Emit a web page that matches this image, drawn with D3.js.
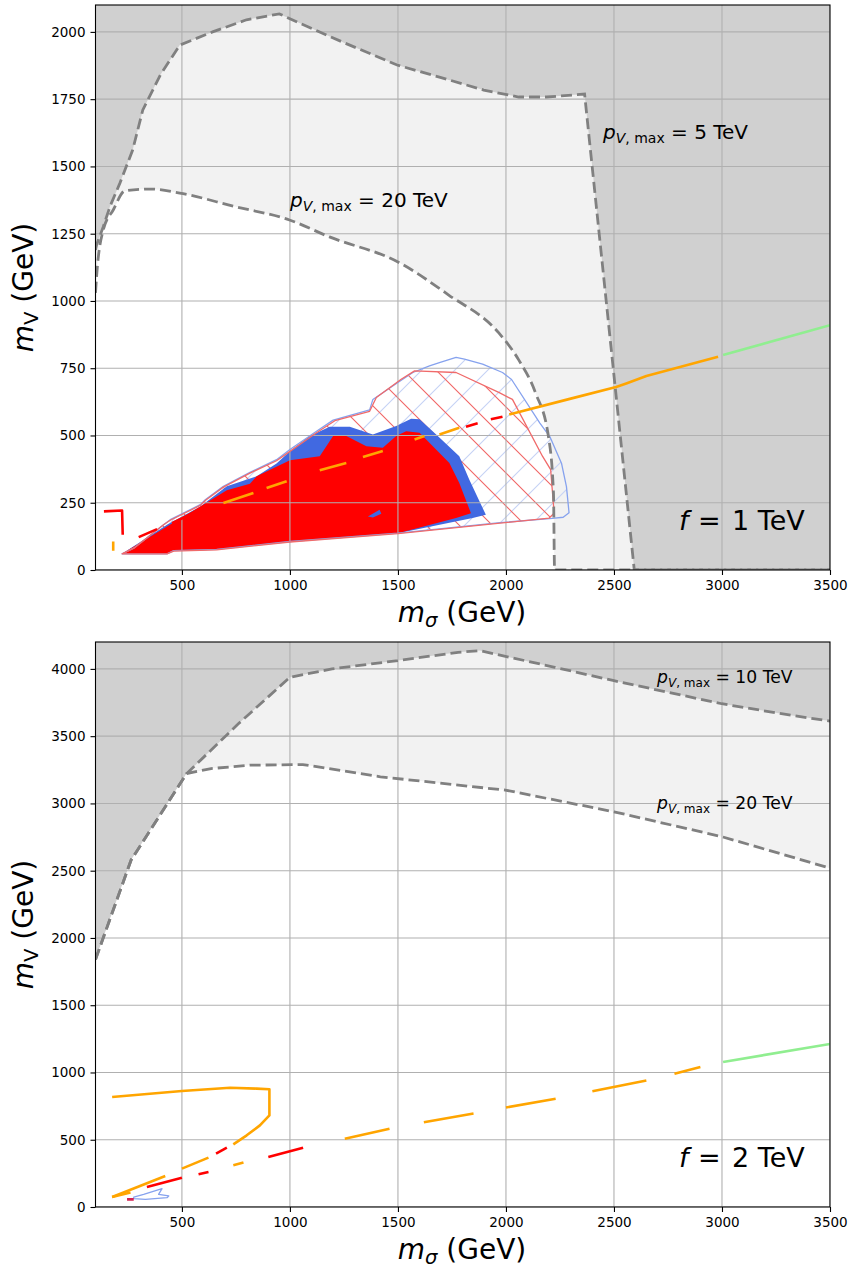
<!DOCTYPE html>
<html><head><meta charset="utf-8">
<script src="https://cdn.jsdelivr.net/npm/d3@7"></script>
<style>body{margin:0;background:#fff} svg{display:block} text{font-family:"DejaVu Sans",sans-serif;fill:#000}</style>
</head><body><svg id="c" width="851" height="1269"></svg>
<script>
// ---------------- data (GeV) ----------------
const xTicks = [500,1000,1500,2000,2500,3000,3500];
const yTicksTop = [0,250,500,750,1000,1250,1500,1750,2000];
const yTicksBottom = [0,500,1000,1500,2000,2500,3000,3500,4000];

// top panel (f = 1 TeV)
const top_pV5 = [[100,1190],[105,1208],[136,1276],[167,1351],[213,1438],[272,1561],[319,1710],[400,1840],[490,1951],[642,2000],[799,2045],[951,2067],[1044,2033],[1250,1960],[1496,1877],[1700,1830],[1897,1784],[2059,1758],[2188,1758],[2364,1769],[2594,0],[3500,0]];
const top_pV20 = [[100,1030],[105,1090],[136,1264],[182,1338],[236,1409],[351,1416],[490,1401],[744,1351],[998,1301],[1183,1238],[1500,1145],[1735,1022],[1967,881],[2059,781],[2137,658],[2197,494],[2220,286],[2225,0],[3500,0]];
const topBlueHatch = [[223,60],[277,81],[415,168],[446,187],[585,243],[608,261],[692,311],[815,363],[938,410],[1000,448],[1123,516],[1200,557],[1369,595],[1384,634],[1430,659],[1500,697],[1569,734],[1646,759],[1692,771],[1769,790],[1808,784],[1892,765],[1984,734],[2026,708],[2157,546],[2203,496],[2257,397],[2280,310],[2292,213],[2265,196],[2215,192],[1972,176],[1500,137],[1000,106],[661,77],[462,72],[431,60]];
const topRedHatch = [[223,60],[277,81],[415,168],[446,185],[585,240],[608,258],[692,308],[815,360],[938,406],[1000,441],[1123,510],[1208,555],[1369,590],[1400,641],[1515,709],[1577,740],[1769,734],[1969,659],[2030,634],[2169,423],[2207,373],[2223,211],[2200,193],[1500,135],[1000,104],[661,75],[462,70],[431,60]];
const topBlueSolid = [[223,60],[431,168],[585,236],[708,311],[846,348],[938,396],[1000,441],[1092,498],[1184,532],[1277,532],[1384,504],[1492,535],[1561,562],[1600,560],[1677,504],[1784,423],[1830,336],[1907,205],[1846,193],[1500,137],[1000,106],[661,75],[462,71],[431,60]];
const topRedSolid = [[223,60],[431,162],[600,243],[708,296],[815,321],[846,348],[1000,408],[1138,423],[1200,498],[1261,498],[1354,460],[1430,454],[1492,498],[1538,516],[1600,510],[1738,398],[1784,323],[1838,211],[1769,193],[1500,137],[1000,106],[661,75],[462,71],[431,60]];
const topBlueIsland = [[1361,199],[1415,224],[1423,209],[1384,195]];
const topLineRed = [[[300,122],[385,152]],[[454,174],[546,209]],[[1815,532],[1869,545]],[[1930,560],[1984,570]],[[139,218],[223,221],[226,131]]];
const topLineOrange = [[[692,249],[831,286]],[[892,305],[985,330]],[[1138,371],[1261,398]],[[1338,420],[1430,442]],[[1577,485],[1623,498]],[[1692,504],[1784,529]],[[182,106],[182,72]],[[2015,578],[2300,637],[2510,680],[2560,694],[2650,721],[2982,793]]];
const topLineGreen = [[[3005,799],[3500,910]]];

// bottom panel (f = 2 TeV)
const bot_pV10 = [[100,1840],[265,2580],[522,3222],[760,3590],[1000,3938],[1195,4000],[1500,4062],[1778,4123],[1879,4136],[2226,4012],[2495,3914],[2999,3741],[3325,3654],[3500,3612]];
const bot_pV20 = [[100,1840],[265,2580],[522,3222],[635,3259],[814,3284],[1060,3289],[1419,3198],[1997,3099],[2500,2938],[2999,2753],[3500,2519]];
const botBlueOutline = [[277,74],[323,94],[408,136],[392,94],[439,82],[431,69],[331,57],[277,62]];
const botLineRed = [[[708,441],[658,397]],[[338,149],[500,218]],[[577,243],[623,260]],[[900,372],[1061,441]]];
const botLineOrange = [[[177,818],[500,862],[723,887],[846,880],[905,875],[905,681],[861,607],[800,533],[738,466]],[[623,367],[500,285]],[[423,230],[177,74]],[[177,74],[262,107]],[[738,310],[785,330]],[[1254,508],[1461,582]],[[1620,630],[1850,695]],[[2000,740],[2230,805]],[[2400,860],[2650,940]],[[2780,990],[2900,1040]]];
const botLineGreen = [[[3005,1078],[3500,1212]]];
const botLineCrimson = [[[246,57],[277,57]]];

// ---------------- drawing ----------------
const svg = d3.select('#c');
const x = d3.scaleLinear().domain([100,3500]).range([95.5,830]);
const defs = svg.append('defs');
let clipCount = 0;

function panel(cfg){
  const y = d3.scaleLinear().domain(cfg.ydom).range([cfg.bottom,cfg.top]);
  const g = svg.append('g');
  const clipId = 'clip'+cfg.name;
  defs.append('clipPath').attr('id',clipId).append('rect')
    .attr('x',x.range()[0]).attr('y',cfg.top).attr('width',x.range()[1]-x.range()[0]).attr('height',cfg.bottom-cfg.top);
  const area = g.append('g').attr('clip-path',`url(#${clipId})`);
  const line = d3.line().x(d=>x(d[0])).y(d=>y(d[1]));
  const poly = pts => line(pts)+'Z';
  const x0 = x.domain()[0], x1 = x.domain()[1];

  area.append('rect').attr('x',x.range()[0]).attr('y',cfg.top).attr('width',x.range()[1]-x.range()[0]).attr('height',cfg.bottom-cfg.top).attr('fill','#d0d0d0');
  area.append('path').attr('d',poly([[x0,0],...cfg.outer,[x1,0]])).attr('fill','#f2f2f2');
  const innerLine = cfg.smoothInner ? d3.line().x(d=>x(d[0])).y(d=>y(d[1])).curve(d3.curveMonotoneX) : line;
  area.append('path').attr('d',innerLine([[x0,0],...cfg.inner,[x1,0]])+'Z').attr('fill','#ffffff');

  // hatched regions (lines clipped to the region)
  (cfg.hatches||[]).forEach(h=>{
    const id = 'hclip'+(clipCount++);
    defs.append('clipPath').attr('id',id).append('path').attr('d',poly(h.pts));
    const px = h.pts.map(p=>x(p[0])), py = h.pts.map(p=>y(p[1]));
    const bx0=d3.min(px), bx1=d3.max(px), by0=d3.min(py), by1=d3.max(py);
    const s = h.spacing;
    const hg = area.append('g').attr('clip-path',`url(#${id})`).attr('stroke',h.color).attr('stroke-width',1.1);
    if(h.dir==='/'){
      for(let c=Math.floor((bx0+by0)/s)*s; c<=bx1+by1; c+=s){
        hg.append('line').attr('x1',c-by0).attr('y1',by0).attr('x2',c-by1).attr('y2',by1);
      }
    } else {
      for(let c=Math.floor((bx0-by1)/s)*s; c<=bx1-by0; c+=s){
        hg.append('line').attr('x1',c+by0).attr('y1',by0).attr('x2',c+by1).attr('y2',by1);
      }
    }
  });

  (cfg.fills||[]).forEach(f=>{
    area.append('path').attr('d',poly(f.pts)).attr('fill',f.fill);
  });

  // grid
  const grid = area.append('g').attr('stroke','#b0b0b0').attr('stroke-width',1.1);
  xTicks.forEach(t=>grid.append('line').attr('x1',x(t)).attr('x2',x(t)).attr('y1',cfg.top).attr('y2',cfg.bottom));
  cfg.yticks.forEach(t=>grid.append('line').attr('x1',x.range()[0]).attr('x2',x.range()[1]).attr('y1',y(t)).attr('y2',y(t)));

  (cfg.outlines||[]).forEach(f=>{
    area.append('path').attr('d',poly(f.pts)).attr('fill','none').attr('stroke',f.stroke).attr('stroke-width',f.sw).attr('stroke-linejoin','round');
  });

  // contours
  area.append('path').attr('d',line(cfg.outer)).attr('fill','none').attr('stroke','#808080')
      .attr('stroke-width',2.8).attr('stroke-dasharray','11,5');
  area.append('path').attr('d',innerLine(cfg.inner)).attr('fill','none').attr('stroke','#808080')
      .attr('stroke-width',2.8).attr('stroke-dasharray','11,5');

  // model lines
  cfg.lines.forEach(L=>{
    L.pieces.forEach(p=>{
      area.append('path').attr('d',line(p)).attr('fill','none').attr('stroke',L.color)
        .attr('stroke-width',2.6).attr('stroke-linejoin','round');
    });
  });

  // frame
  g.append('rect').attr('x',x.range()[0]).attr('y',cfg.top).attr('width',x.range()[1]-x.range()[0]).attr('height',cfg.bottom-cfg.top)
    .attr('fill','none').attr('stroke','#000').attr('stroke-width',1.1);

  // axes
  const ax = g.append('g').attr('transform',`translate(0,${cfg.bottom})`)
    .call(d3.axisBottom(x).tickValues(xTicks).tickSize(5).tickPadding(5).tickFormat(d3.format('d')));
  const ay = g.append('g').attr('transform',`translate(${x.range()[0]},0)`)
    .call(d3.axisLeft(y).tickValues(cfg.yticks).tickSize(5).tickPadding(5).tickFormat(d3.format('d')));
  [ax,ay].forEach(a=>{
    a.select('.domain').remove();
    a.selectAll('text').attr('font-size',13.5).attr('font-family','DejaVu Sans');
    a.selectAll('line').attr('stroke','#000').attr('stroke-width',1.1);
  });

  // axis labels
  const xl = g.append('text').attr('x',462).attr('y',cfg.bottom+52).attr('text-anchor','middle').attr('font-size',28);
  xl.append('tspan').attr('font-style','italic').text('m');
  xl.append('tspan').attr('font-style','italic').attr('font-size',19.6).attr('dy',5).text('σ');
  xl.append('tspan').attr('dy',-5).text(' (GeV)');

  const cy = (cfg.top+cfg.bottom)/2;
  const yl = g.append('text').attr('transform',`translate(33,${cy}) rotate(-90)`).attr('text-anchor','middle').attr('font-size',28);
  yl.append('tspan').attr('font-style','italic').text('m');
  yl.append('tspan').attr('font-size',19.6).attr('dy',5).text('V');
  yl.append('tspan').attr('dy',-5).text(' (GeV)');

  // annotations
  cfg.labels.forEach(l=>{
    const t = g.append('text').attr('x',l.x).attr('y',l.y).attr('font-size',l.size);
    t.append('tspan').attr('font-style','italic').text('p');
    t.append('tspan').attr('font-style','italic').attr('font-size',l.size*0.7).attr('dy',l.size*0.22).text('V');
    t.append('tspan').attr('font-size',l.size*0.7).text(', max');
    t.append('tspan').attr('dy',-l.size*0.22).text(' = '+l.val+' TeV');
  });
  const ft = g.append('text').attr('y',cfg.fy).attr('font-size',27);
  ft.append('tspan').attr('x',679).attr('font-style','italic').text('f');
  ft.append('tspan').attr('x',698).text('=');
  ft.append('tspan').attr('x',732).text(cfg.fval+' TeV');
}

panel({
  name:'top', ydom:[0,2100], top:5, bottom:570, yticks:yTicksTop,
  outer:top_pV5, inner:top_pV20, smoothInner:true,
  hatches:[
    {pts:topBlueHatch, dir:'/', color:'#c5d2f5', spacing:33},
    {pts:topRedHatch, dir:'\\', color:'#f06464', spacing:33}
  ],
  fills:[
    {pts:topBlueSolid, fill:'#4169e1'},
    {pts:topRedSolid, fill:'#ff0000'},
    {pts:topBlueIsland, fill:'#4169e1'}
  ],
  outlines:[
    {pts:topBlueHatch, stroke:'#86a2ee', sw:1.3},
    {pts:topRedHatch, stroke:'#f06a6a', sw:1.3}
  ],
  lines:[
    {color:'#ff0000', pieces:topLineRed},
    {color:'#ffa500', pieces:topLineOrange},
    {color:'#90ee90', pieces:topLineGreen}
  ],
  labels:[{x:603,y:139,size:20,val:'5'},{x:290,y:207,size:20,val:'20'}],
  fy:530, fval:'1'
});

panel({
  name:'bot', ydom:[0,4200], top:642, bottom:1207, yticks:yTicksBottom,
  outer:bot_pV10, inner:bot_pV20, smoothInner:false,
  hatches:[], fills:[],
  outlines:[{pts:botBlueOutline, stroke:'#86a2ee', sw:1.3}],
  lines:[
    {color:'#ff0000', pieces:botLineRed},
    {color:'#ffa500', pieces:botLineOrange},
    {color:'#90ee90', pieces:botLineGreen},
    {color:'#d62050', pieces:botLineCrimson}
  ],
  labels:[{x:657,y:683,size:17.2,val:'10'},{x:657,y:809,size:17.2,val:'20'}],
  fy:1167, fval:'2'
});
</script></body></html>
